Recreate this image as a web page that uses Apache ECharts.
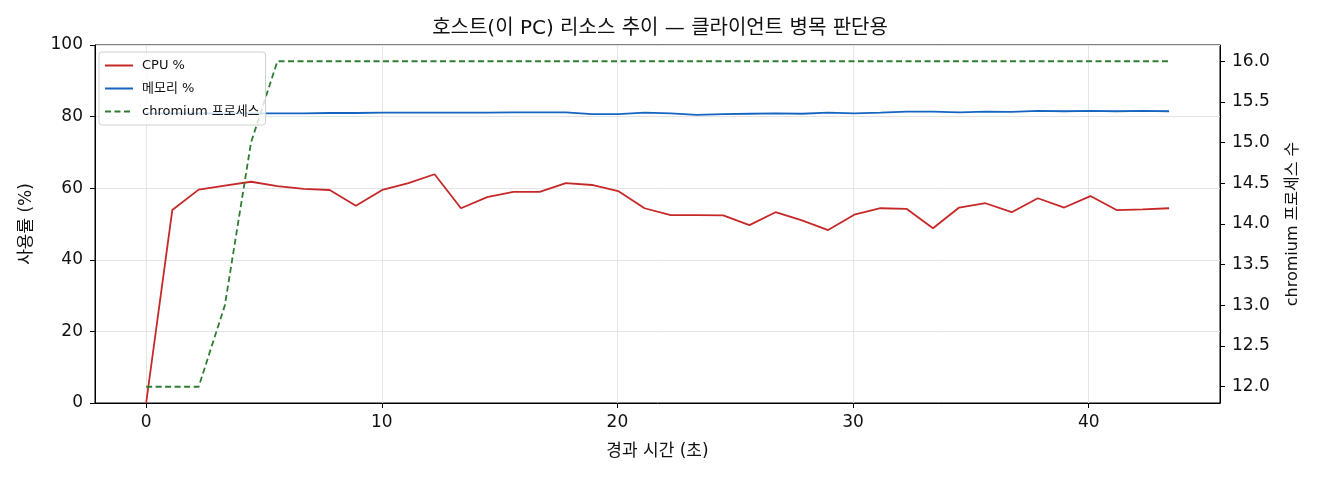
<!DOCTYPE html>
<html>
<head>
<meta charset="utf-8">
<script src="https://cdn.jsdelivr.net/npm/echarts@6/dist/echarts.min.js"></script>
<style>
  html, body { margin: 0; padding: 0; background: #fff; }
  #main { width: 1320px; height: 480px; }
</style>
</head>
<body>
<div id="main"></div>
<script>
// 경과 시간 (초)
var times = [0, 1.11, 2.23, 3.34, 4.45, 5.57, 6.68, 7.79, 8.9, 10.02,
  11.13, 12.24, 13.36, 14.47, 15.58, 16.7, 17.81, 18.92, 20.03, 21.15,
  22.26, 23.37, 24.49, 25.6, 26.71, 27.83, 28.94, 30.05, 31.16, 32.28,
  33.39, 34.5, 35.62, 36.73, 37.84, 38.96, 40.07, 41.18, 42.29, 43.41];
var cpu = [0, 53.9, 59.6, 60.7, 61.8, 60.6, 59.8, 59.5, 55.1, 59.5,
  61.4, 63.9, 54.4, 57.5, 59.0, 59.0, 61.4, 60.9, 59.2, 54.4,
  52.5, 52.5, 52.4, 49.7, 53.3, 51.0, 48.3, 52.6, 54.4, 54.2,
  48.8, 54.6, 55.8, 53.3, 57.2, 54.6, 57.8, 53.9, 54.1, 54.4];
var mem = [80.9, 80.9, 80.9, 80.9, 80.9, 80.9, 80.9, 81.0, 81.0, 81.1,
  81.1, 81.1, 81.1, 81.1, 81.2, 81.2, 81.2, 80.7, 80.7, 81.1,
  80.9, 80.5, 80.7, 80.8, 80.9, 80.8, 81.1, 80.9, 81.1, 81.4,
  81.4, 81.2, 81.4, 81.3, 81.6, 81.5, 81.6, 81.5, 81.6, 81.5];
var procs = [12, 12, 12, 13, 15, 16, 16, 16, 16, 16,
  16, 16, 16, 16, 16, 16, 16, 16, 16, 16,
  16, 16, 16, 16, 16, 16, 16, 16, 16, 16,
  16, 16, 16, 16, 16, 16, 16, 16, 16, 16];
var xTicks = [0, 10, 20, 30, 40];
var rightTicks = [12, 12.5, 13, 13.5, 14, 14.5, 15, 15.5, 16];

function pairs(xs, ys) {
  return xs.map(function (x, i) { return [x, ys[i]]; });
}

var font = "'DejaVu Sans', 'Noto Sans CJK KR', sans-serif";
var chart = echarts.init(document.getElementById('main'));
chart.setOption({
  animation: false,
  textStyle: { fontFamily: font },
  title: {
    text: '호스트(이 PC) 리소스 추이 — 클라이언트 병목 판단용',
    left: 'center',
    top: 14,
    textStyle: { fontSize: 20, fontWeight: 'normal', color: '#111', fontFamily: font }
  },
  legend: {
    orient: 'vertical',
    left: 99,
    top: 52,
    itemWidth: 28,
    itemHeight: 13,
    itemGap: 10,
    padding: [7, 6, 7, 5],
    backgroundColor: 'rgba(255,255,255,0.8)',
    borderColor: '#d0d0d0',
    borderWidth: 1,
    borderRadius: 3,
    itemStyle: { opacity: 0 },
    textStyle: { fontSize: 13, color: '#111', fontFamily: font, padding: [0, 0, 0, 4] },
    data: ['CPU %', '메모리 %', 'chromium 프로세스']
  },
  grid: {
    left: 95, right: 100, top: 45, bottom: 77,
    show: true, borderColor: '#000', borderWidth: 1
  },
  xAxis: {
    type: 'value',
    min: -2.17,
    max: 45.57,
    name: '경과 시간 (초)',
    nameLocation: 'middle',
    nameGap: 40,
    nameTextStyle: { fontSize: 17, color: '#111' },
    axisLine: { show: true, onZero: false, lineStyle: { color: '#000' } },
    axisTick: { show: true, length: 5, customValues: xTicks, lineStyle: { color: '#000' } },
    axisLabel: { customValues: xTicks, fontSize: 17, color: '#111', margin: 11 },
    splitLine: { show: true, lineStyle: { color: '#e5e5e5' } }
  },
  yAxis: [{
    type: 'value',
    min: 0,
    max: 100,
    interval: 20,
    name: '사용률 (%)',
    nameLocation: 'middle',
    nameGap: 60,
    nameTextStyle: { fontSize: 17, color: '#111' },
    axisLine: { show: true, onZero: false, lineStyle: { color: '#000' } },
    axisTick: { show: true, length: 5, lineStyle: { color: '#000' } },
    axisLabel: { fontSize: 17, color: '#111', margin: 12 },
    splitLine: { show: true, lineStyle: { color: '#e5e5e5' } }
  }, {
    type: 'value',
    min: 11.8,
    max: 16.2,
    position: 'right',
    name: 'chromium 프로세스 수',
    nameLocation: 'middle',
    nameGap: 65,
    nameTextStyle: { fontSize: 16, color: '#111' },
    axisLine: { show: true, onZero: false, lineStyle: { color: '#000' } },
    axisTick: { show: true, length: 5, customValues: rightTicks, lineStyle: { color: '#000' } },
    axisLabel: {
      customValues: rightTicks, fontSize: 17, color: '#111', margin: 12,
      formatter: function (v) { return v.toFixed(1); }
    },
    splitLine: { show: false }
  }],
  series: [{
    name: 'CPU %',
    type: 'line',
    yAxisIndex: 0,
    symbol: 'none',
    color: '#c62828',
    lineStyle: { width: 1.8, color: '#c62828' },
    data: pairs(times, cpu)
  }, {
    name: '메모리 %',
    type: 'line',
    yAxisIndex: 0,
    symbol: 'none',
    color: '#1565c0',
    lineStyle: { width: 1.8, color: '#1565c0' },
    data: pairs(times, mem)
  }, {
    name: 'chromium 프로세스',
    type: 'line',
    yAxisIndex: 1,
    symbol: 'none',
    color: '#2e7d32',
    lineStyle: { width: 1.8, color: '#2e7d32', type: [6, 3.5] },
    data: pairs(times, procs)
  }]
});
</script>
</body>
</html>
